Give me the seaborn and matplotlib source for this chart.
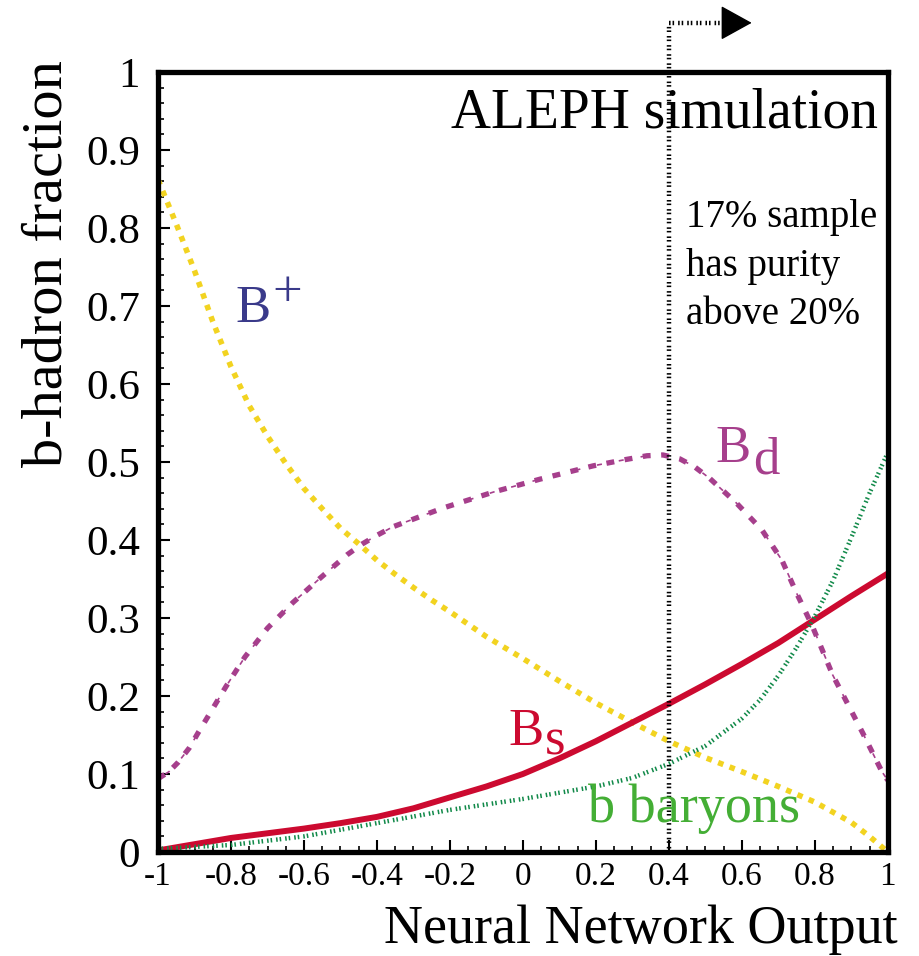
import numpy as np
import pandas as pd
import matplotlib
matplotlib.use("Agg")
import matplotlib.pyplot as plt
import seaborn as sns

# b-hadron fractions vs neural network output
bplus_x = [-1.0, -0.95, -0.9, -0.85, -0.8, -0.75, -0.7, -0.65, -0.6, -0.55, -0.5, -0.45, -0.4,
           -0.35, -0.3, -0.25, -0.2, -0.1, 0.0, 0.1, 0.2, 0.3, 0.4, 0.5, 0.6, 0.7, 0.8, 0.9,
           0.95, 1.0]
bplus_y = [0.862, 0.805, 0.745, 0.68, 0.622, 0.572, 0.533, 0.498, 0.466, 0.44, 0.415, 0.395,
           0.374, 0.356, 0.339, 0.323, 0.308, 0.276, 0.248, 0.219, 0.191, 0.166, 0.142, 0.121,
           0.103, 0.084, 0.064, 0.038, 0.02, 0.0]

bd_x = [-1.0, -0.97, -0.945, -0.915, -0.89, -0.85, -0.814, -0.762, -0.70, -0.63, -0.556,
        -0.482, -0.44, -0.40, -0.356, -0.219, -0.077, 0.047, 0.192, 0.28, 0.34, 0.384, 0.43,
        0.47, 0.512, 0.586, 0.655, 0.71, 0.75, 0.792, 0.849, 0.932, 0.984, 1.0]
bd_y = [0.094, 0.103, 0.115, 0.133, 0.153, 0.184, 0.212, 0.25, 0.287, 0.32, 0.351,
        0.381, 0.395, 0.406, 0.417, 0.441, 0.462, 0.478, 0.495, 0.503, 0.508, 0.509, 0.504,
        0.494, 0.479, 0.447, 0.413, 0.374, 0.332, 0.291, 0.227, 0.152, 0.103, 0.092]

bs_x = [-1.0, -0.9, -0.8, -0.7, -0.6, -0.5, -0.4, -0.3, -0.2, -0.1, 0.0, 0.1, 0.2, 0.3, 0.4,
        0.5, 0.6, 0.7, 0.8, 0.9, 1.0]
bs_y = [0.002, 0.010, 0.018, 0.024, 0.030, 0.037, 0.045, 0.056, 0.070, 0.084, 0.100, 0.120,
        0.142, 0.166, 0.190, 0.215, 0.241, 0.268, 0.298, 0.328, 0.357]

bbar_x = [-1.0, -0.8, -0.6, -0.4, -0.2, 0.0, 0.1, 0.2, 0.3, 0.4, 0.5, 0.6, 0.65, 0.7, 0.75,
          0.8, 0.85, 0.9, 0.95, 1.0]
bbar_y = [0.004, 0.009, 0.02, 0.037, 0.054, 0.068, 0.076, 0.084, 0.095, 0.113, 0.136, 0.171,
          0.195, 0.226, 0.262, 0.302, 0.348, 0.403, 0.46, 0.512]

nn_cut = 0.4
x_ticks = [-1, -0.8, -0.6, -0.4, -0.2, 0, 0.2, 0.4, 0.6, 0.8, 1]
x_ticklabels = ["-1", "-0.8", "-0.6", "-0.4", "-0.2", "0", "0.2", "0.4", "0.6", "0.8", "1"]
y_ticks = [0, 0.1, 0.2, 0.3, 0.4, 0.5, 0.6, 0.7, 0.8, 0.9, 1]
y_ticklabels = ["0", "0.1", "0.2", "0.3", "0.4", "0.5", "0.6", "0.7", "0.8", "0.9", "1"]

sns.set_theme(style="ticks")
plt.rcParams['font.family'] = ['Liberation Serif', 'DejaVu Serif']
plt.rcParams['mathtext.fontset'] = 'stix'
for key in ['text.color', 'axes.labelcolor', 'xtick.color', 'ytick.color']:
    plt.rcParams[key] = 'black'

fig = plt.figure(figsize=(9.19, 9.56), dpi=100)
ax = fig.add_axes([0.172, 0.1088, 0.794, 0.8159])

dotted = (0, (0.35, 0.45, 0.35, 0.9))

# curves
sns.lineplot(x=bplus_x, y=bplus_y, ax=ax, color="#f2d320", lw=4.0,
             linestyle=(0, (1.0, 1.2)), estimator=None, sort=False)
sns.lineplot(x=bd_x, y=bd_y, ax=ax, color="#a63f8c", lw=3.8,
             linestyle=(0, (1.5, 2.0)), estimator=None, sort=False)
sns.lineplot(x=bd_x, y=bd_y, ax=ax, color="#a63f8c", lw=1.2,
             linestyle=(8.0, (3.0, 10.3)), estimator=None, sort=False)
sns.lineplot(x=bs_x, y=bs_y, ax=ax, color="#cc0a30", lw=4.3,
             estimator=None, sort=False)
sns.lineplot(x=bbar_x, y=bbar_y, ax=ax, color="#128a4a", lw=3.2,
             linestyle=dotted, estimator=None, sort=False)

# cut line with arrow above the frame
y_top = 1.063
ax.plot([nn_cut, nn_cut], [0, y_top], color="black", lw=3.2, linestyle=dotted, clip_on=False)
ax.plot([nn_cut, 0.553], [y_top, y_top], color="black", lw=3.2, linestyle=dotted, clip_on=False)
ax.annotate("", xy=(0.627, y_top), xytext=(0.55, y_top), annotation_clip=False,
            arrowprops=dict(arrowstyle="-|>,head_length=0.67,head_width=0.37",
                            color="black", lw=1, mutation_scale=30,
                            shrinkA=0, shrinkB=0))

ax.set_xlim(-1, 1)
ax.set_ylim(0, 1)
ax.set_xticks(x_ticks)
ax.set_xticklabels(x_ticklabels)
ax.set_yticks(y_ticks)
ax.set_yticklabels(y_ticklabels)
ax.set_xticks(np.arange(-1, 1.001, 0.05), minor=True)
ax.set_yticks(np.arange(0, 1.001, 0.02), minor=True)
ax.tick_params(axis='both', which='both', direction='in', top=False, right=False,
               color='black')
ax.tick_params(axis='both', which='major', length=8.6, width=1.5)
ax.tick_params(axis='both', which='minor', length=4.3, width=1.2)
ax.tick_params(axis='x', which='major', labelsize=24, pad=7)
ax.tick_params(axis='y', which='major', labelsize=31, pad=13)
for s in ax.spines.values():
    s.set_linewidth(3.8)
    s.set_color('black')
    s.set_visible(True)

ax.set_xlabel("Neural Network Output", fontsize=39, ha='right', va='center')
ax.xaxis.set_label_coords(1.0137, -0.1)
ax.set_ylabel("b-hadron fraction", fontsize=42, ha='right', va='center',
              rotation_mode='anchor')
ax.yaxis.set_label_coords(-0.152, 1.015)

# texts
ax.text(0.973, 0.929, "ALEPH simulation", fontsize=40, ha='right', va='baseline')
ax.text(0.447, 0.751, "17% sample\nhas purity\nabove 20%", fontsize=28,
        ha='left', va='center', linespacing=1.41)

# curve labels: main letter plus full-size raised/lowered suffix
def label(x, y, main, suffix, dy, color, size=38, suffix_size=38):
    ax.text(x, y, main, fontsize=size, color=color, ha='left', va='baseline')
    ax.annotate(suffix, xy=(x, y), xytext=(26.6, dy), textcoords='offset points',
                fontsize=suffix_size, color=color, ha='left', va='baseline')

label(-0.789, 0.679, "B", "+", 12, "#3a3a8a", suffix_size=38)
label(0.529, 0.500, "B", "d", -8, "#a63f8c")
label(-0.041, 0.137, "B", "s", -7, "#cc0a30")
ax.text(0.178, 0.038, "b baryons", fontsize=39, color="#44ae35", ha='left', va='baseline')

fig.savefig("out.png", dpi=100)
